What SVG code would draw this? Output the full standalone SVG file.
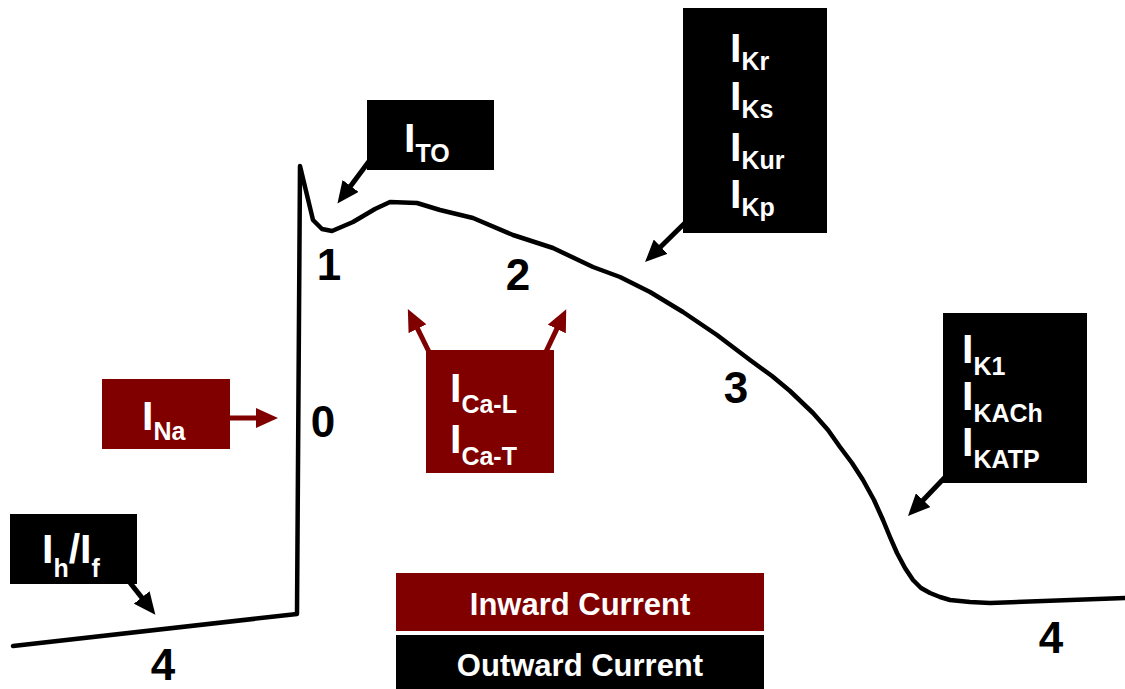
<svg xmlns="http://www.w3.org/2000/svg" width="1125" height="689" viewBox="0 0 1125 689">
<style>
text{font-family:"Liberation Sans",Arial,sans-serif;font-weight:bold}
.w{fill:#fff}
.big{font-size:41px}
.s{font-size:25px}
.ph{font-size:44px;fill:#000;text-anchor:middle}
.lg{font-size:31px;fill:#fff;text-anchor:middle}
.blk{fill:#000}
.red{fill:#800000}
.ab{stroke:#000;stroke-width:5;fill:none}
.ar{stroke:#800000;stroke-width:5;fill:none}
</style>
<defs>
<marker id="mb" markerUnits="userSpaceOnUse" viewBox="0 0 22 20" markerWidth="22" markerHeight="20" refX="4" refY="10" orient="auto"><path d="M0,0 L22,10 L0,20 z" fill="#000"/></marker>
<marker id="mr" markerUnits="userSpaceOnUse" viewBox="0 0 22 20" markerWidth="22" markerHeight="20" refX="4" refY="10" orient="auto"><path d="M0,0 L22,10 L0,20 z" fill="#800000"/></marker>
</defs>
<g id="trace">
<polyline fill="none" stroke="#000" stroke-width="4.5" stroke-linejoin="round" stroke-linecap="round" points="13,646 297,614 300,166 313,220 322,229 332,231 353,222 375,209 390,202 417,203 440,210 473,218 513,235 553,248 593,267 620,277 650,292 683,312 717,335 750,360 772,376 790,391 813,413 828,430 840,447 852,463 863,480 874,500 883,520 890,537 897,553 905,568 913,580 921,588 930,593 940,597 950,600 970,602 990,603 1125,598"/>
</g>
<g id="connectors">
<line class="ab" x1="370" y1="160" x2="348.2" y2="189.2" marker-end="url(#mb)"/>
<line class="ab" x1="690" y1="218" x2="657.9" y2="249.5" marker-end="url(#mb)"/>
<line class="ab" x1="950" y1="472" x2="920.4" y2="503" marker-end="url(#mb)"/>
<line class="ab" x1="120" y1="570" x2="144.2" y2="600.6" marker-end="url(#mb)"/>
<line class="ar" x1="225" y1="418" x2="260" y2="418" marker-end="url(#mr)"/>
<line class="ar" x1="432" y1="358" x2="415.8" y2="325.2" marker-end="url(#mr)"/>
<line class="ar" x1="543" y1="358" x2="558.5" y2="325.4" marker-end="url(#mr)"/>
</g>
<g id="ITO">
<rect class="blk" x="367" y="100" width="127" height="70"/>
<text class="w big" x="404" y="152" font-size="42">I<tspan class="s" dy="10" font-size="28">TO</tspan></text>
</g>
<g id="IK-delayed">
<rect class="blk" x="683" y="8" width="144" height="225"/>
<text class="w big" x="730" y="62">I<tspan class="s" dy="8">Kr</tspan></text>
<text class="w big" x="730" y="110">I<tspan class="s" dy="8">Ks</tspan></text>
<text class="w big" x="730" y="161">I<tspan class="s" dy="8">Kur</tspan></text>
<text class="w big" x="730" y="208">I<tspan class="s" dy="8">Kp</tspan></text>
</g>
<g id="IK1">
<rect class="blk" x="943" y="313" width="144" height="170"/>
<text class="w big" x="962" y="363">I<tspan class="s" dy="12" font-size="26">K1</tspan></text>
<text class="w big" x="962" y="410">I<tspan class="s" dy="12" font-size="26">KACh</tspan></text>
<text class="w big" x="962" y="456">I<tspan class="s" dy="12" font-size="26">KATP</tspan></text>
</g>
<g id="INa">
<rect class="red" x="102" y="379" width="128" height="70"/>
<text class="w big" x="142" y="430">I<tspan class="s" dy="10">Na</tspan></text>
</g>
<g id="ICa">
<rect class="red" x="426" y="350" width="128" height="123"/>
<text class="w big" x="450" y="402">I<tspan class="s" dy="11" font-size="27">Ca-L</tspan></text>
<text class="w big" x="450" y="453">I<tspan class="s" dy="12" font-size="27">Ca-T</tspan></text>
</g>
<g id="Ihf">
<rect class="blk" x="10" y="514" width="127" height="70"/>
<text class="w big" x="42" y="563">I<tspan class="s" dy="14" font-size="26">h</tspan><tspan dy="-14">/I</tspan><tspan class="s" dy="14" font-size="26">f</tspan></text>
</g>
<g id="phases">
<text class="ph" x="323" y="437">0</text>
<text class="ph" x="329" y="280">1</text>
<text class="ph" x="518" y="290">2</text>
<text class="ph" x="736" y="403">3</text>
<text class="ph" x="163" y="680">4</text>
<text class="ph" x="1051" y="653">4</text>
</g>
<g id="legend">
<rect class="red" x="396" y="573" width="368" height="58"/>
<text class="lg" x="580" y="615">Inward Current</text>
<rect class="blk" x="396" y="635" width="368" height="54"/>
<text class="lg" x="580" y="676">Outward Current</text>
</g>
</svg>
